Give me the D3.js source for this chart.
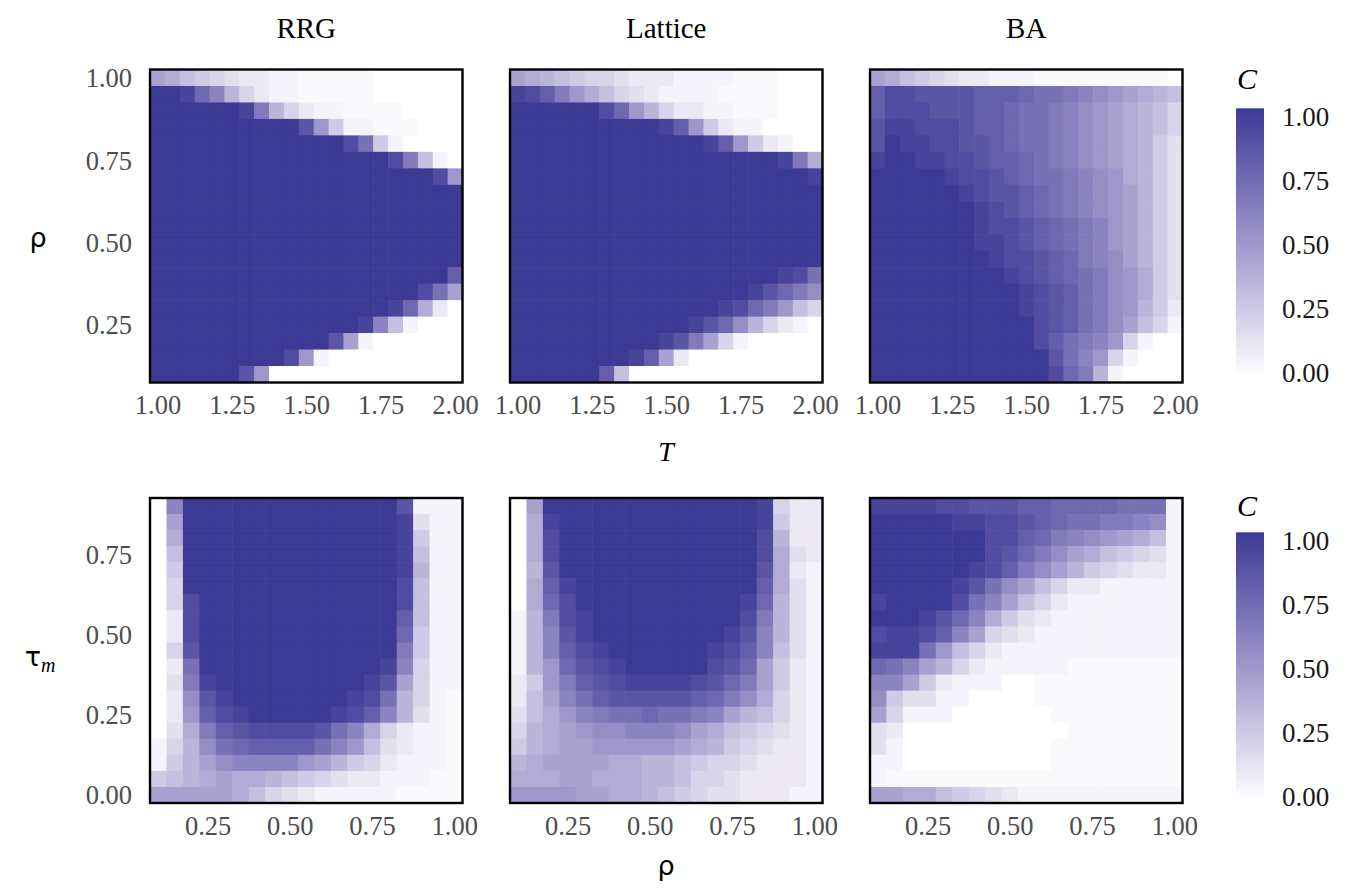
<!DOCTYPE html>
<html>
<head>
<meta charset="utf-8">
<script src="https://cdn.jsdelivr.net/npm/d3@7"></script>
<style>
  body { margin: 0; background: #fff; }
  svg text { font-family: "Liberation Serif", "Times New Roman", serif; }
</style>
</head>
<body>
<div id="chart"></div>
<script>

//Grid values on each axis
var tValues = [1.00, 1.05, 1.10, 1.15, 1.20, 1.25, 1.30, 1.35, 1.40, 1.45, 1.50,
               1.55, 1.60, 1.65, 1.70, 1.75, 1.80, 1.85, 1.90, 1.95, 2.00];
var rhoValues = [0.10, 0.15, 0.20, 0.25, 0.30, 0.35, 0.40, 0.45, 0.50, 0.55,
                 0.60, 0.65, 0.70, 0.75, 0.80, 0.85, 0.90, 0.95, 1.00];
var tauValues = [0.00, 0.05, 0.10, 0.15, 0.20, 0.25, 0.30, 0.35, 0.40, 0.45,
                 0.50, 0.55, 0.60, 0.65, 0.70, 0.75, 0.80, 0.85, 0.90];

var networks = ["RRG", "Lattice", "BA"];

var topTicksX = [1.00, 1.25, 1.50, 1.75, 2.00];
var topTicksY = [0.25, 0.50, 0.75, 1.00];
var bottomTicksX = [0.25, 0.50, 0.75, 1.00];
var bottomTicksY = [0.00, 0.25, 0.50, 0.75];
var legendTicks = [0.00, 0.25, 0.50, 0.75, 1.00];

//C, one string per row, top row first.
//each character is C * 20 written in base 36 (0..9, a=10 .. k=20),
//"." marks a barely tinted cell (C about 0.025)
//top row: rows rho = 1.00 .. 0.10, columns T = 1.00 .. 2.00
var rrgRhoT = [
    "9865432211.....000000",
    "kkjfc74211.....000000",
    "kkkkkkjd74211....0000",
    "kkkkkkkkkkha511...000",
    "kkkkkkkkkkkkkie510000",
    "kkkkkkkkkkkkkkkkid610",
    "kkkkkkkkkkkkkkkkkkkia",
    "kkkkkkkkkkkkkkkkkkkkk",
    "kkkkkkkkkkkkkkkkkkkkk",
    "kkkkkkkkkkkkkkkkkkkkk",
    "kkkkkkkkkkkkkkkkkkkkk",
    "kkkkkkkkkkkkkkkkkkkkk",
    "kkkkkkkkkkkkkkkkkkkkg",
    "kkkkkkkkkkkkkkkkkkie9",
    "kkkkkkkkkkkkkkkkjf820",
    "kkkkkkkkkkkkkkjc61000",
    "kkkkkkkkkkkkh91000000",
    "kkkkkkkkkia1000000000",
    "kkkkkkha0000000000000"
];
var latticeRhoT = [
    "987654432221111...000",
    "jigda864321111....000",
    "kkkkkkifa742211...000",
    "kkkkkkkkkkjga52110000",
    "kkkkkkkkkkkkkjga52100",
    "kkkkkkkkkkkkkkkkkkjd8",
    "kkkkkkkkkkkkkkkkkkkkj",
    "kkkkkkkkkkkkkkkkkkkkk",
    "kkkkkkkkkkkkkkkkkkkkk",
    "kkkkkkkkkkkkkkkkkkkkk",
    "kkkkkkkkkkkkkkkkkkkkk",
    "kkkkkkkkkkkkkkkkkkkkk",
    "kkkkkkkkkkkkkkkkkkjie",
    "kkkkkkkkkkkkkkkkjhfdb",
    "kkkkkkkkkkkkkkjifda64",
    "kkkkkkkkkkkkjhfb74210",
    "kkkkkkkkkkjhd94100000",
    "kkkkkkkkjg92000000000",
    "kkkkkkg60000000000000"
];
var baRhoT = [
    "98654322111.........0",
    "giihhhhgggfeedcba9876",
    "giiihhhggfeedcba98764",
    "hjjiiihggfeedcba98764",
    "hkjjiihhgfeedcba98753",
    "jkkjjiihggfedcba98753",
    "kkkkkjiihgfeedcba8753",
    "kkkkkkjihhgfedcba9753",
    "kkkkkkkjihgfedcba9753",
    "kkkkkkkjiihgfedca9753",
    "kkkkkkkjjihgfedca9753",
    "kkkkkkkkjiihgfdcb9753",
    "kkkkkkkkkjihgfedba853",
    "kkkkkkkkkkjihgedba853",
    "kkkkkkkkkkjihgedba752",
    "kkkkkkkkkkkihgedb9641",
    "kkkkkkkkkkkigedca4100",
    "kkkkkkkkkkkkheca41000",
    "kkkkkkkkkkkkifd710000"
];

//bottom row: rows tau = 0.90 .. 0.00, columns rho = 0.10 .. 1.00
var rrgTauRho = [
    "0ckkkkkkkkkkkkkh111",
    "09kkkkkkkkkkkkkj311",
    "08kkkkkkkkkkkkkj511",
    "06kkkkkkkkkkkkkj611",
    "05kkkkkkkkkkkkkj711",
    "04kkkkkkkkkkkkki611",
    "04ikkkkkkkkkkkki611",
    "02ikkkkkkkkkkkkg611",
    "02ikkkkkkkkkkkkf511",
    "04hkkkkkkkkkkkkd511",
    "02ekkkkkkkkkkkjc411",
    "03djkkkkkkkkkjh9411",
    "02bhjkkkkkkkjie741.",
    "02agijkkkkkjigc731.",
    "038dghiiiihec84211.",
    "147befggggeca63211.",
    "1579bcccca97542111.",
    "56789887654322111..",
    "999998643211111...."
];
var latticeTauRho = [
    "09kkkkkkkkkkkkkj422",
    "08jkkkkkkkkkkkkj522",
    "08ikkkkkkkkkkkki722",
    "08ikkkkkkkkkkkki832",
    "07hkkkkkkkkkkkkh821",
    "08gjkkkkkkkkkkkg831",
    "08fikkkkkkkkkkjf731",
    "17dijkkkkkkkkkid731",
    "17chjkkkkkkkkjhc731",
    "17cgijkkkkkkjigc631",
    "17afhijkkkkkihf9521",
    "25adghijjjjihfd9521",
    "269ceghhhhhgfdb8421",
    "368acdeefeedc976421",
    "4789abbcccb98654321",
    "57899aaaaa987543221",
    "7899998877654432221",
    "8889988877644322221",
    "aaaa998876543322211"
];
var baTauRho = [
    "jjjjiihhhggffffeee1",
    "kkkkkjjiihgfeeddcb1",
    "kkkkkkkiigfdcba9861",
    "kkkkkkkihfdb9865431",
    "kkkkkkjigdb97543221",
    "kkkkkjheb9642211111",
    "jkkkkiec96421111111",
    "kkkjhfc853211111111",
    "ijjigc9432111111111",
    "jjjea64211111111111",
    "fec974211111.......",
    "cc95211100.........",
    "b533110000.........",
    "94111000000........",
    "320000000000.......",
    "31000000000........",
    "11000000000........",
    "1..................",
    "9988654321111111111"
];

var topGrids = [rrgRhoT, latticeRhoT, baRhoT];
var bottomGrids = [rrgTauRho, latticeTauRho, baTauRho];

//decode one character of the grids
function cellValue(ch){
    return ch === '.' ? 0.025 : parseInt(ch, 36) / 20;
}

function setChart(){

    var width = 1349,
        height = 888;

    var svg = d3.select('#chart')
        .append('svg')
        .attr('width', width)
        .attr('height', height);

    //white to dark blue, Lab like ggplot's gradient
    var color = d3.scaleLinear()
        .domain([0, 1])
        .range(['#ffffff', '#3b3b96'])
        .interpolate(d3.interpolateLab);

    var panelLeft = [150, 510, 870],
        panelWidth = 312.5;

    //one row of three panels
    function drawRow(grids, xs, ys, opts){
        var stepX = xs[1] - xs[0],
            stepY = ys[1] - ys[0];

        grids.forEach(function(grid, p){
            var x = d3.scaleLinear()
                .domain([xs[0] - stepX / 2, xs[xs.length - 1] + stepX / 2])
                .range([panelLeft[p], panelLeft[p] + panelWidth]);
            var y = d3.scaleLinear()
                .domain([ys[0] - stepY / 2, ys[ys.length - 1] + stepY / 2])
                .range([opts.top + opts.height, opts.top]);

            //turn the strings into cells
            var cells = [];
            grid.forEach(function(row, r){
                var yv = ys[ys.length - 1 - r];
                row.split('').forEach(function(ch, c){
                    cells.push({x: xs[c], y: yv, v: cellValue(ch)});
                });
            });

            var g = svg.append('g').attr('class', 'panel');

            g.selectAll('.cell')
                .data(cells)
                .enter()
                .append('rect')
                .attr('class', 'cell')
                .attr('x', function(d){ return x(d.x - stepX / 2); })
                .attr('y', function(d){ return y(d.y + stepY / 2); })
                .attr('width', x(xs[0] + stepX / 2) - x(xs[0] - stepX / 2) + 0.6)
                .attr('height', y(ys[0] - stepY / 2) - y(ys[0] + stepY / 2) + 0.6)
                .attr('fill', function(d){ return color(d.v); });

            g.append('rect')
                .attr('x', panelLeft[p])
                .attr('y', opts.top)
                .attr('width', panelWidth)
                .attr('height', opts.height)
                .attr('fill', 'none')
                .attr('stroke', '#000')
                .attr('stroke-width', 2.4);

            //x axis under every panel
            var xAxis = svg.append('g')
                .attr('transform', 'translate(0,' + (opts.top + opts.height) + ')')
                .call(d3.axisBottom(x).tickValues(opts.xTicks).tickFormat(d3.format('.2f'))
                    .tickSize(0).tickPadding(13));
            xAxis.select('.domain').remove();
            xAxis.selectAll('text')
                .attr('fill', '#4d4d4d')
                .style('font-size', '26.5px');

            //y axis only on the first panel
            if (p === 0){
                var yAxis = svg.append('g')
                    .attr('transform', 'translate(' + panelLeft[0] + ',0)')
                    .call(d3.axisLeft(y).tickValues(opts.yTicks).tickFormat(d3.format('.2f'))
                        .tickSize(0).tickPadding(18));
                yAxis.select('.domain').remove();
                yAxis.selectAll('text')
                    .attr('fill', '#4d4d4d')
                    .attr('dy', '0.34em')
                    .style('font-size', '26.5px');
            }
        });
    }

    drawRow(topGrids, tValues, rhoValues, {
        top: 69.5, height: 313, xTicks: topTicksX, yTicks: topTicksY
    });
    drawRow(bottomGrids, rhoValues, tauValues, {
        top: 498, height: 305, xTicks: bottomTicksX, yTicks: bottomTicksY
    });

    //facet titles
    svg.selectAll('.facet')
        .data(networks)
        .enter()
        .append('text')
        .attr('class', 'facet')
        .attr('x', function(d, i){ return panelLeft[i] + panelWidth / 2; })
        .attr('y', 38)
        .attr('text-anchor', 'middle')
        .style('font-size', '29px')
        .text(function(d){ return d; });

    //axis titles
    svg.append('text')
        .attr('x', 38).attr('y', 247)
        .attr('text-anchor', 'middle')
        .style('font-family', '"DejaVu Sans", sans-serif')
        .style('font-size', '27px')
        .text('ρ');

    var tau = svg.append('text')
        .attr('x', 40).attr('y', 666)
        .attr('text-anchor', 'middle')
        .style('font-family', '"DejaVu Sans", sans-serif')
        .style('font-size', '27px');
    tau.append('tspan').text('τ');
    tau.append('tspan')
        .attr('dy', 6)
        .style('font-family', '"Liberation Serif", serif')
        .style('font-style', 'italic')
        .style('font-size', '20px')
        .text('m');

    svg.append('text')
        .attr('x', 666).attr('y', 461)
        .attr('text-anchor', 'middle')
        .style('font-style', 'italic')
        .style('font-size', '28px')
        .text('T');

    svg.append('text')
        .attr('x', 666).attr('y', 875)
        .attr('text-anchor', 'middle')
        .style('font-family', '"DejaVu Sans", sans-serif')
        .style('font-size', '27px')
        .text('ρ');

    //colour bars
    var defs = svg.append('defs');
    var grad = defs.append('linearGradient')
        .attr('id', 'cbar')
        .attr('x1', 0).attr('y1', 1).attr('x2', 0).attr('y2', 0);
    grad.selectAll('stop')
        .data(d3.range(0, 1.01, 0.1))
        .enter()
        .append('stop')
        .attr('offset', function(d){ return d; })
        .attr('stop-color', function(d){ return color(d); });

    [{titleY: 89, zero: 372, one: 116}, {titleY: 516, zero: 796, one: 540}].forEach(function(lg){
        var ly = d3.scaleLinear().domain([0, 1]).range([lg.zero, lg.one]);

        svg.append('text')
            .attr('x', 1237).attr('y', lg.titleY)
            .style('font-style', 'italic')
            .style('font-size', '30px')
            .text('C');

        svg.append('rect')
            .attr('x', 1236)
            .attr('y', ly(1.03))
            .attr('width', 28)
            .attr('height', ly(-0.015) - ly(1.03))
            .attr('fill', 'url(#cbar)');

        var la = svg.append('g')
            .attr('transform', 'translate(1264,0)')
            .call(d3.axisRight(ly).tickValues(legendTicks).tickFormat(d3.format('.2f'))
                .tickSize(0).tickPadding(18));
        la.select('.domain').remove();
        la.selectAll('text')
            .attr('fill', '#1a1a1a')
            .attr('dy', '0.34em')
            .style('font-size', '27px');
    });
}

window.onload = setChart();
</script>
</body>
</html>
